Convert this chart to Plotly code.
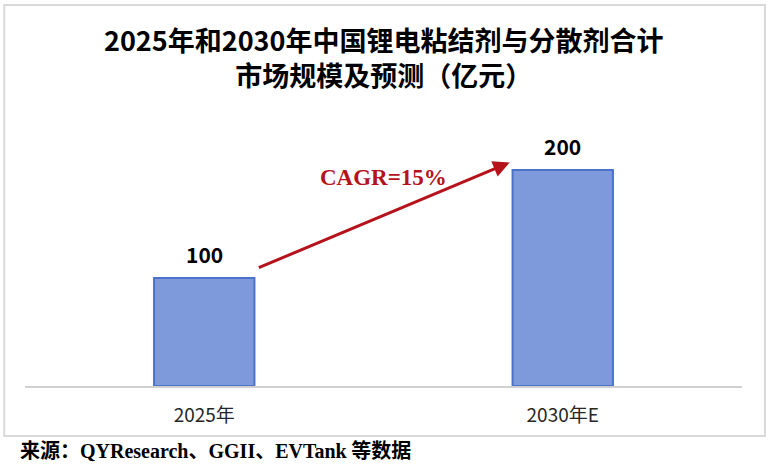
import plotly.graph_objects as go

# market size, 100 million yuan
years = ['2025年', '2030年E']
market_size = [100, 200]
value_labels = ['100', '200']
cagr_text = 'CAGR=15%'
title_lines = ['2025年和2030年中国锂电粘结剂与分散剂合计', '市场规模及预测（亿元）']
source_text = ('<b>来源：</b><b><span style="font-family:Liberation Serif">QYResearch</span>、'
               '<span style="font-family:Liberation Serif">GGII</span>、'
               '<span style="font-family:Liberation Serif">EVTank</span> 等数据</b>')

cjk = 'Noto Sans CJK SC, Microsoft YaHei, sans-serif'

fig = go.Figure()

fig.add_trace(go.Bar(x=years, y=market_size,
                     marker=dict(color='#7e9ada',
                                 line=dict(color='#4a72c8', width=2)),
                     width=0.28,
                     hoverinfo='skip'))

# value labels above bars
for yr, v, lab in zip(years, market_size, value_labels):
    fig.add_annotation(x=yr, y=v, text='<b>' + lab + '</b>', showarrow=False,
                       yshift=24, font=dict(family=cjk, size=21, color='black'))

# CAGR arrow between the two bars
fig.add_annotation(x=0.852, y=207, ax=0.148, ay=109,
                   xref='x', yref='y', axref='x', ayref='y',
                   text='', showarrow=True,
                   arrowhead=2, arrowsize=1.1, arrowwidth=3,
                   arrowcolor='#b5121b')
fig.add_annotation(x=0.5, y=193, xref='x', yref='y',
                   text='<b>' + cagr_text + '</b>', showarrow=False,
                   font=dict(family='Liberation Serif, Times New Roman, serif',
                             size=23, color='#b5121b'))

# two-line title
fig.add_annotation(x=0.5, y=1.220, xref='paper', yref='paper',
                   yanchor='middle', align='center',
                   text='<b>' + '<br>'.join(title_lines) + '</b>', showarrow=False,
                   font=dict(family=cjk, size=27, color='black'))

fig.add_annotation(x=-0.01, y=-0.237, xref='paper', yref='paper',
                   xanchor='left', yanchor='middle',
                   text=source_text, showarrow=False, align='left',
                   font=dict(family=cjk, size=20, color='black'))

# frame around the chart
fig.add_shape(type='rect', xref='paper', yref='paper',
              x0=-0.029, x1=1.032, y0=-0.185, y1=1.411,
              line=dict(color='#d9d9d9', width=2), layer='below')

fig.update_layout(
    width=768, height=470,
    paper_bgcolor='white', plot_bgcolor='white',
    margin=dict(l=25, r=26, t=116, b=84),
    showlegend=False,
    xaxis=dict(showline=True, linecolor='#d0d0d0', linewidth=1.5,
               ticks='outside', ticklen=11, tickcolor='rgba(0,0,0,0)',
               showgrid=False,
               tickfont=dict(family=cjk, size=19, color='#262626')),
    yaxis=dict(range=[0, 250], visible=False, showgrid=False),
)

fig.write_html("out.html", config={'displayModeBar': False},
               post_script="document.body.style.margin='0';")
